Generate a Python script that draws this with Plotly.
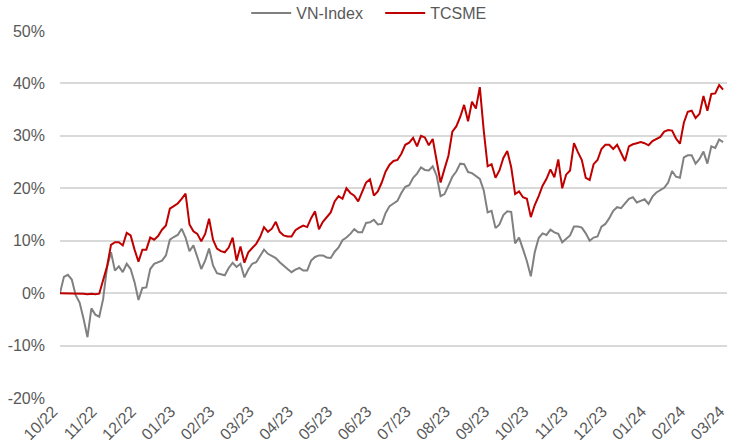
import plotly.graph_objects as go

# Month tick labels (evenly spaced along the trading-day axis)
month_labels = ["10/22", "11/22", "12/22", "01/23", "02/23", "03/23", "04/23", "05/23", "06/23",
                "07/23", "08/23", "09/23", "10/23", "11/23", "12/23", "01/24", "02/24", "03/24"]
points_per_month = 10

vnindex = [0.0, 3.1, 3.5, 2.6, -0.4, -1.8, -4.9, -8.4, -2.9, -4.1,
           -4.5, -1.1, 5.0, 7.8, 4.3, 5.1, 4.0, 5.6, 4.6, 2.1,
           -1.3, 1.0, 1.1, 4.6, 5.6, 5.9, 6.2, 7.2, 10.2, 10.7,
           11.1, 12.3, 10.6, 8.0, 9.1, 6.9, 4.6, 6.2, 8.5, 5.3,
           3.8, 3.6, 3.4, 4.8, 5.8, 5.0, 5.6, 3.0, 4.5, 5.6,
           5.9, 7.1, 8.3, 7.5, 7.1, 6.7, 5.9, 5.2, 4.6, 4.0,
           4.5, 4.8, 4.3, 4.3, 6.2, 6.9, 7.2, 7.2, 6.8, 6.7,
           7.9, 8.7, 10.1, 10.6, 11.3, 12.2, 11.6, 11.6, 13.4, 13.5,
           14.0, 13.1, 13.2, 15.3, 16.6, 17.1, 17.6, 19.1, 20.3, 20.6,
           22.0, 22.8, 24.0, 23.5, 23.4, 24.2, 22.4, 18.5, 18.9, 20.5,
           22.2, 23.2, 24.7, 24.6, 23.1, 22.9, 22.4, 21.8, 19.6, 15.4,
           15.7, 12.4, 13.1, 14.9, 15.6, 15.5, 9.5, 10.6, 8.4, 6.1,
           3.2, 7.8, 10.5, 11.4, 11.1, 12.1, 11.6, 11.3, 9.7, 10.3,
           11.0, 12.7, 12.7, 12.5, 11.4, 10.0, 10.6, 10.8, 12.7, 13.2,
           14.3, 15.7, 16.4, 16.2, 17.0, 18.0, 18.3, 17.3, 17.6, 17.9,
           17.0, 18.4, 19.2, 19.6, 20.1, 21.1, 23.3, 22.2, 22.0, 25.9,
           26.3, 26.3, 24.7, 25.6, 27.0, 24.7, 28.0, 27.7, 29.3, 28.8]

tcsme = [0.0, 0.0, 0.0, 0.0, 0.0, -0.1, -0.1, -0.2, -0.1, -0.2,
         -0.1, 2.5, 5.1, 9.2, 9.7, 9.7, 9.1, 11.5, 11.0, 8.3,
         6.0, 8.3, 8.3, 10.6, 10.2, 10.9, 12.1, 12.9, 16.1, 16.6,
         17.1, 18.0, 19.0, 13.1, 11.8, 11.3, 9.9, 11.3, 14.2, 10.2,
         8.5, 8.0, 7.8, 8.7, 10.6, 6.2, 8.9, 5.8, 7.8, 8.6,
         9.4, 10.7, 12.6, 11.7, 12.3, 13.6, 11.7, 11.0, 10.8, 10.8,
         12.0, 12.5, 12.9, 12.6, 14.3, 15.6, 12.2, 13.6, 14.6, 15.4,
         17.5, 18.5, 18.0, 20.0, 19.1, 18.6, 17.5, 19.5, 21.1, 21.7,
         18.6, 19.4, 21.1, 23.2, 24.5, 25.2, 25.4, 26.6, 28.3, 28.7,
         29.6, 28.0, 30.0, 29.7, 28.2, 29.4, 25.0, 21.1, 23.7, 26.2,
         30.8, 31.8, 33.6, 35.9, 32.8, 36.5, 35.2, 39.3, 31.0, 24.2,
         24.6, 22.0, 23.4, 25.8, 27.1, 24.0, 18.9, 19.4, 18.3, 18.0,
         14.5, 16.8, 18.5, 20.5, 21.8, 23.6, 22.1, 25.5, 20.0, 22.6,
         23.4, 28.6, 26.9, 25.4, 22.0, 21.6, 24.6, 25.4, 27.5, 28.3,
         28.3, 27.5, 28.3, 26.9, 25.2, 28.0, 28.4, 28.6, 28.8, 28.6,
         28.2, 29.0, 29.4, 29.8, 30.8, 31.1, 31.0, 29.5, 28.5, 32.5,
         34.6, 34.8, 33.4, 34.2, 37.6, 34.8, 38.0, 38.1, 39.7, 38.8]

y_ticks = [-20, -10, 0, 10, 20, 30, 40, 50]

x = list(range(len(tcsme)))
tick_pos = [i * points_per_month for i in range(len(month_labels))]

fig = go.Figure()
fig.add_trace(go.Scatter(x=x, y=vnindex, mode="lines", name="VN-Index",
                         line=dict(color="#808080", width=2)))
fig.add_trace(go.Scatter(x=x, y=tcsme, mode="lines", name="TCSME",
                         line=dict(color="#C00000", width=2)))

font_family = "Liberation Sans, Arial, sans-serif"
fig.update_layout(
    template="none",
    width=734, height=448,
    margin=dict(l=60, r=7, t=31, b=50, autoexpand=False),
    plot_bgcolor="white", paper_bgcolor="white",
    font=dict(family=font_family, size=16, color="#595959"),
    showlegend=True,
    legend=dict(orientation="h", xref="container", yref="paper",
                x=0.518, xanchor="center", y=1.049, yanchor="middle",
                font=dict(size=16, color="#595959"),
                itemwidth=40, entrywidth=79, entrywidthmode="pixels",
                tracegroupgap=0, bgcolor="rgba(0,0,0,0)"),
)
fig.update_xaxes(
    range=[0, tick_pos[-1]], tickmode="array", tickvals=tick_pos, ticktext=month_labels,
    tickangle=-45, showgrid=False, zeroline=False, showline=False, ticks="",
    automargin=False, ticklabelshift=-7, tickfont=dict(size=16, color="#595959"),
)
fig.update_yaxes(
    range=[-20, 50], tickmode="array", tickvals=y_ticks,
    ticktext=[f"{v}%" for v in y_ticks],
    showgrid=True, gridcolor="#D9D9D9", gridwidth=1.5, zeroline=False, showline=False,
    ticks="", ticklabelstandoff=14, automargin=False,
    tickfont=dict(size=16, color="#595959"),
)

fig.write_html("out.html", config={"displayModeBar": False},
               post_script="document.body.style.margin='0';document.body.style.overflow='hidden';")
